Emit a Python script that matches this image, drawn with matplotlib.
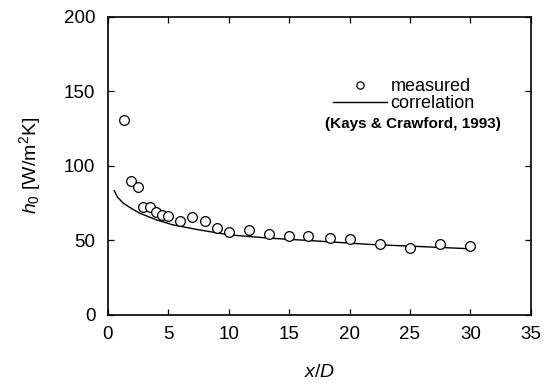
import numpy as np
import matplotlib.pyplot as plt

plt.rcParams['font.family'] = ['Liberation Sans', 'DejaVu Sans']
plt.rcParams['mathtext.fontset'] = 'custom'
plt.rcParams['mathtext.rm'] = 'Liberation Sans'
plt.rcParams['mathtext.it'] = 'Liberation Sans:italic'

# measured h0 vs x/D
x_meas = [1.35, 1.88, 2.46, 2.93, 3.48, 3.95, 4.44, 4.94, 5.97, 7.0, 8.0, 9.0,
          10.0, 11.7, 13.35, 15.0, 16.6, 18.35, 20.0, 22.5, 25.0, 27.5, 30.0]
h_meas = [131, 90, 86, 72.7, 72.3, 69.4, 67.1, 66.7, 63.1, 65.6, 63.1, 58.2,
          55.5, 57, 54.4, 53, 53.2, 51.9, 51, 47.4, 45.2, 47.4, 46.5]

# Kays & Crawford (1993) correlation
x_corr = [0.52, 0.8, 1.27, 2.0, 2.65, 4.03, 5.4, 7.6, 10.1, 13.4, 16.75, 21.5, 25.5, 30.3]
h_corr = [83.4, 79.0, 75.0, 71.2, 68.2, 63.8, 60.4, 57.0, 53.7, 51.5, 49.9, 47.4, 46.0, 44.3]

def plot_h0():
    fig = plt.figure(figsize=(5.45, 3.85), dpi=100)
    ax = fig.add_axes([0.198, 0.182, 0.776, 0.774])

    l_corr, = ax.plot(x_corr, h_corr, color='black', lw=1.0, label='correlation')
    l_meas, = ax.plot(x_meas, h_meas, 'o', mfc='white', mec='black', ms=7, mew=0.9,
                      label='measured')

    ax.set_xlim(0, 35)
    ax.set_ylim(0, 200)
    ax.set_xticks(np.arange(0, 36, 5))
    ax.set_yticks(np.arange(0, 201, 50))
    ax.tick_params(direction='in', top=True, right=True, labelsize=13.5, length=4,
                   width=0.9)
    ax.tick_params(axis='x', pad=8)
    ax.tick_params(axis='y', pad=9)
    for s in ax.spines.values():
        s.set_linewidth(1.2)

    ax.set_xlabel('$x/D$', fontsize=14, labelpad=15)
    ax.set_ylabel('$h_0$ [W/m$^2$K]', fontsize=14, labelpad=15)

    ax.legend(handles=[l_meas, l_corr], loc='upper left', bbox_to_anchor=(0.532, 0.795),
              frameon=False, fontsize=13, handlelength=3.0, handletextpad=0.2,
              labelspacing=0.0, borderaxespad=0, borderpad=0, markerscale=0.75)
    ax.text(0.722, 0.64, '(Kays & Crawford, 1993)', transform=ax.transAxes,
            ha='center', va='center', fontsize=11, fontweight='bold')

    fig.savefig('out.png', dpi=100)

def main():
    plot_h0()

if __name__ == "__main__":
    main()
